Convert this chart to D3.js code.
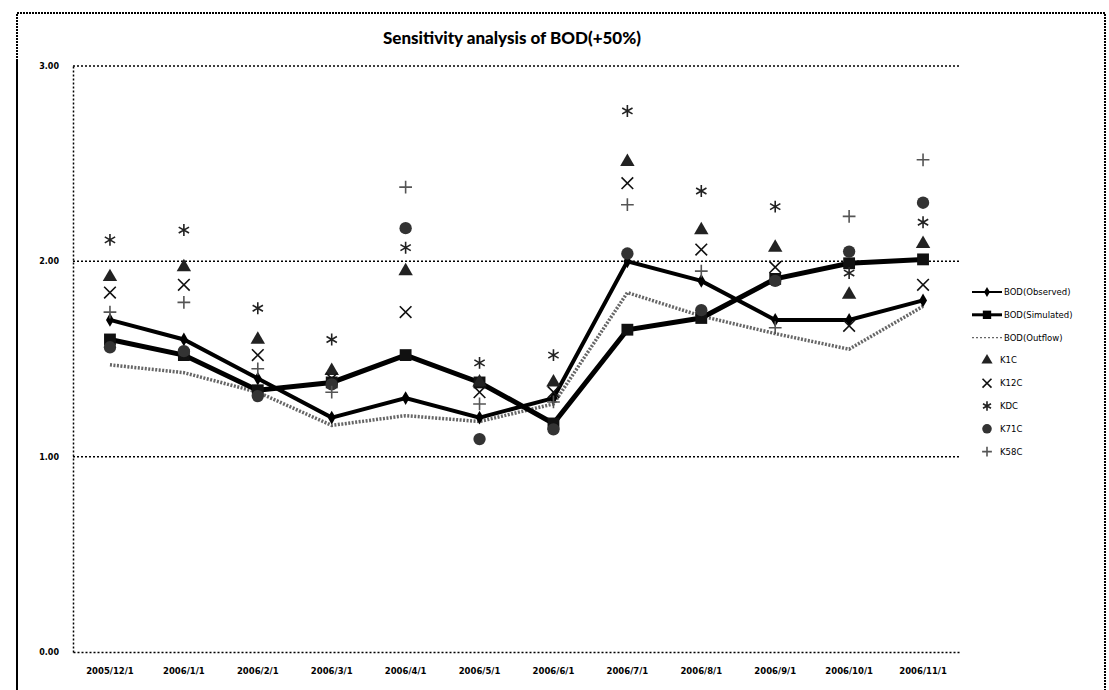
<!DOCTYPE html>
<html><head><meta charset="utf-8">
<script src="https://cdn.jsdelivr.net/npm/d3@7"></script>
<style>body{margin:0;background:#fff;}svg{display:block;}</style>
</head><body>
<svg id="c" width="1109" height="690"></svg>
<script>
const categories = ["2005/12/1","2006/1/1","2006/2/1","2006/3/1","2006/4/1","2006/5/1","2006/6/1","2006/7/1","2006/8/1","2006/9/1","2006/10/1","2006/11/1"];
const yTicks = [0, 1, 2, 3];
const observed  = [1.70,1.60,1.40,1.20,1.30,1.20,1.30,2.00,1.90,1.70,1.70,1.80];
const simulated = [1.60,1.52,1.34,1.38,1.52,1.38,1.17,1.65,1.71,1.91,1.99,2.01];
const outflow   = [1.47,1.43,1.33,1.16,1.21,1.18,1.27,1.84,1.72,1.63,1.55,1.77];
const k1c  = [1.92,1.97,1.60,1.44,1.95,1.38,1.38,2.51,2.16,2.07,1.83,2.09];
const k12c = [1.84,1.88,1.52,1.40,1.74,1.33,1.33,2.40,2.06,1.97,1.67,1.88];
const kdc  = [2.11,2.16,1.76,1.60,2.07,1.48,1.52,2.77,2.36,2.28,1.94,2.20];
const k71c = [1.56,1.54,1.31,1.37,2.17,1.09,1.14,2.04,1.75,1.90,2.05,2.30];
const k58c = [1.74,1.79,1.45,1.33,2.38,1.27,1.28,2.29,1.95,1.66,2.23,2.52];
const lineNames = ["BOD(Observed)","BOD(Simulated)","BOD(Outflow)"];
const markerNames = ["K1C","K12C","KDC","K71C","K58C"];

const svg = d3.select("#c");
const m = {l:73, r:960, t:66, b:652};
const x = d3.scaleBand().domain(categories).range([m.l, m.r]);
const y = d3.scaleLinear().domain([0,3]).range([m.b, m.t]);
const cx = c => x(c) + x.bandwidth()/2;

// outer border
svg.append("rect").attr("x",17).attr("y",13).attr("width",1088).attr("height",700)
  .attr("fill","none").attr("stroke","#000").attr("stroke-width",2).attr("stroke-dasharray","2,1");
svg.append("line").attr("x1",17).attr("x2",17).attr("y1",60).attr("y2",690).attr("stroke","#000").attr("stroke-width",2);

// title
svg.append("text").attr("x",512).attr("y",44).attr("text-anchor","middle")
  .attr("font-family","Lato, 'Open Sans', sans-serif").attr("font-weight",900).attr("font-size",17)
  .text("Sensitivity analysis of BOD(+50%)");

// gridlines
svg.append("g").selectAll("line").data(yTicks.filter(d=>d>0)).join("line")
  .attr("x1",m.l).attr("x2",m.r).attr("y1",d=>y(d)).attr("y2",d=>y(d))
  .attr("stroke","#000").attr("stroke-width",1.5).attr("stroke-dasharray","2,2");

// axes
const ya = svg.append("g").attr("transform",`translate(${m.l},0)`)
  .call(d3.axisLeft(y).tickValues(yTicks).tickFormat(d3.format(".2f")).tickSize(0).tickPadding(14));
ya.select(".domain").attr("stroke","#000").attr("stroke-width",1.5).attr("stroke-dasharray","2,2");
ya.selectAll("text").attr("font-family","'DejaVu Sans', sans-serif").attr("font-size",8).attr("font-weight","bold");

const xa = svg.append("g").attr("transform",`translate(0,${m.b})`)
  .call(d3.axisBottom(x).tickSize(0).tickPadding(16));
xa.select(".domain").attr("stroke","#000").attr("stroke-width",1.5).attr("stroke-dasharray","2,2");
xa.selectAll("text").attr("font-family","'DejaVu Sans', sans-serif").attr("font-size",8.5).attr("font-weight","bold");

const line = d3.line().x((d,i)=>cx(categories[i])).y(d=>y(d));

// outflow
svg.append("path").datum(outflow).attr("d",line).attr("fill","none")
  .attr("stroke","#666").attr("stroke-width",3.5).attr("stroke-dasharray","2,1.5");
// observed
svg.append("path").datum(observed).attr("d",line).attr("fill","none")
  .attr("stroke","#000").attr("stroke-width",4);
svg.append("g").selectAll("path").data(observed).join("path")
  .attr("transform",(d,i)=>`translate(${cx(categories[i])},${y(d)})`)
  .attr("d",d3.symbol(d3.symbolDiamond,55)()).attr("fill","#000");
// simulated
svg.append("path").datum(simulated).attr("d",line).attr("fill","none")
  .attr("stroke","#000").attr("stroke-width",5);
svg.append("g").selectAll("path").data(simulated).join("path")
  .attr("transform",(d,i)=>`translate(${cx(categories[i])},${y(d)})`)
  .attr("d",d3.symbol(d3.symbolSquare,140)()).attr("fill","#111");

// marker series
const markerSeries = [
  {vals:k1c,  sym:d3.symbolTriangle, size:90, fill:"#222", stroke:"none"},
  {vals:k12c, sym:d3.symbolX,        size:90, fill:"none", stroke:"#111"},
  {vals:kdc,  sym:d3.symbolAsterisk, size:100, fill:"none", stroke:"#222"},
  {vals:k71c, sym:d3.symbolCircle,   size:120, fill:"#333", stroke:"none"},
  {vals:k58c, sym:d3.symbolPlus,     size:55, fill:"none", stroke:"#555"}
];
function drawMarker(g, s){
  g.append("path").attr("d",d3.symbol(s.sym,s.size)())
   .attr("fill",s.fill).attr("stroke",s.stroke).attr("stroke-width",1.6);
}
markerSeries.forEach(s=>{
  s.vals.forEach((v,i)=>{
    const g = svg.append("g").attr("transform",`translate(${cx(categories[i])},${y(v)})`);
    drawMarker(g,s);
  });
});

// legend
const lg = svg.append("g").attr("font-family","'DejaVu Sans', sans-serif").attr("font-size",8.5);
const ly0 = 292, ldy = 22.8;
lineNames.forEach((n,i)=>{
  const yy = ly0 + i*ldy;
  const l = lg.append("line").attr("x1",972).attr("x2",1002).attr("y1",yy).attr("y2",yy);
  if(i===0){ l.attr("stroke","#000").attr("stroke-width",2);
    lg.append("path").attr("transform",`translate(987,${yy})`).attr("d",d3.symbol(d3.symbolDiamond,30)()).attr("fill","#000"); }
  if(i===1){ l.attr("stroke","#000").attr("stroke-width",3);
    lg.append("path").attr("transform",`translate(987,${yy})`).attr("d",d3.symbol(d3.symbolSquare,70)()).attr("fill","#000"); }
  if(i===2){ l.attr("stroke","#666").attr("stroke-width",1.3).attr("stroke-dasharray","2,2"); }
  lg.append("text").attr("x",1004).attr("y",yy+3).text(n);
});
markerNames.forEach((n,i)=>{
  const yy = ly0 + (i+3)*ldy;
  const g = lg.append("g").attr("transform",`translate(987,${yy})`);
  const s = Object.assign({}, markerSeries[i], {size: markerSeries[i].size*0.6});
  drawMarker(g,s);
  lg.append("text").attr("x",1000).attr("y",yy+3).text(n);
});
</script>
</body></html>
